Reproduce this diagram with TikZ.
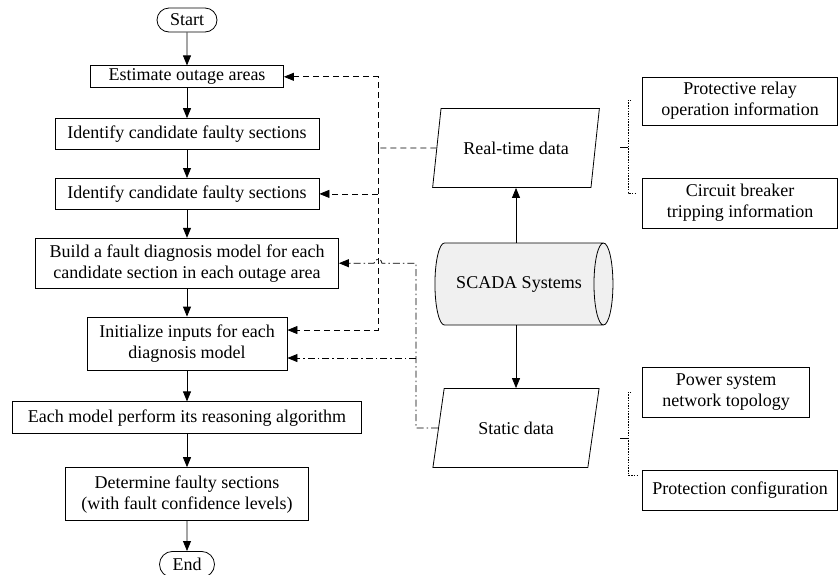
\documentclass[tikz,border=0pt]{standalone}
\usepackage{fontspec}
\setmainfont{Liberation Serif}
\usetikzlibrary{arrows.meta, positioning, shapes.geometric, shapes.misc, calc}
\usepackage{xcolor}
\definecolor{scadagray}{RGB}{240, 240, 240}

\begin{document}
\begin{tikzpicture}[x=1pt, y=-1pt, node distance=30pt,
  every node/.style={font=\fontsize{18}{21}\selectfont, inner sep=0pt, align=center},
  procbox/.style={draw, line width=0.8pt, minimum height=31pt},
  termbox/.style={draw, rounded rectangle, line width=0.8pt, minimum width=60pt, minimum height=24pt},
  databox/.style={draw, trapezium, trapezium left angle=65, trapezium right angle=115,
    trapezium stretches=true, minimum width=167pt, minimum height=79pt, line width=0.8pt},
  infobox/.style={draw, line width=0.8pt, minimum width=195pt, minimum height=50pt},
  flow/.style={-{Triangle[length=10pt, width=8pt]}, line width=0.8pt},
  rtlink/.style={flow, dash pattern=on 6pt off 4pt},
  stlink/.style={flow, dash pattern=on 7pt off 3pt on 1.5pt off 3pt},
  brace/.style={line width=0.8pt, dash pattern=on 1.5pt off 1.2pt}]
\useasboundingbox (0,0) rectangle (838,574);

% main flow
\node[termbox] (start) at (187,20) {Start};
\node[procbox, minimum width=193pt, minimum height=22pt, below=33pt of start] (est) {Estimate outage areas};
\node[procbox, minimum width=264pt, below=30pt of est] (idA) {Identify candidate faulty sections};
\node[procbox, minimum width=264pt, below=28pt of idA] (idB) {Identify candidate faulty sections};
\node[procbox, minimum width=303pt, minimum height=50pt, below=28pt of idB] (build) {Build a fault diagnosis model for each\\candidate section in each outage area};
\node[procbox, minimum width=200pt, minimum height=53pt, below=28pt of build] (init) {Initialize inputs for each\\diagnosis model};
\node[procbox, minimum width=349pt, minimum height=32pt, below=31pt of init] (each) {Each model perform its reasoning algorithm};
\node[procbox, minimum width=243pt, minimum height=53pt, below=33pt of each] (det) {Determine faulty sections\\(with fault confidence levels)};
\node[termbox, minimum width=55pt, minimum height=26pt, below=30pt of det] (end) {End};

\foreach \a/\b in {start/est, est/idA, idA/idB, idB/build, build/init, init/each, each/det, det/end}
  \draw[flow] (\a) -- (\b);

% data sources
\node[databox] (rt) at (516,148) {Real-time data};
\node[draw, cylinder, aspect=1.2, fill=scadagray, line width=0.8pt, minimum width=82pt, minimum height=178pt] (scada) at (519,284) {SCADA Systems};
\node[databox] (st) at (516,428) {Static data};

\draw[flow] (rt.south |- scada.north) -- (rt.south);
\draw[flow] (st.north |- scada.south) -- (st.north);

\node[infobox, minimum height=48pt] (relay) at (740,101) {Protective relay\\operation information};
\node[infobox] (breaker) at (740,203) {Circuit breaker\\tripping information};
\node[infobox, minimum width=167pt] (topo) at (726,392) {Power system\\network topology};
\node[infobox, minimum height=40pt] (prot) at (740,490) {Protection configuration};

% links to the flow
\coordinate (rtbus) at (378,148);
\coordinate (stbus) at (416,428);
\coordinate (inithi) at ($(init.north east)!0.25!(init.south east)$);
\coordinate (initlo) at ($(init.north east)!0.77!(init.south east)$);
\draw[line width=0.8pt, dash pattern=on 6pt off 4pt] (rt.west) -- (rtbus);
\draw[rtlink] (rtbus) |- (est.east);
\draw[rtlink] (rtbus |- idB.east) -- (idB.east);
\draw[rtlink] (rtbus) |- (inithi);
\draw[stlink] (st.west) -- (stbus) -- (stbus |- build.east) -- ([xshift=4pt]rtbus |- build.east)
  arc[start angle=0, end angle=180, radius=4pt] -- (build.east);
\draw[stlink] (stbus |- initlo) -- (initlo);

% brackets
\draw[brace] (631,100) -- (628,100) -- (628,193) -- (637,193);
\draw[line width=0.8pt] (620,147) -- (628,147);
\draw[brace] (631,392) -- (628,392) -- (628,475) -- (637,475);
\draw[line width=0.8pt] (620,438) -- (628,438);
\end{tikzpicture}
\end{document}
